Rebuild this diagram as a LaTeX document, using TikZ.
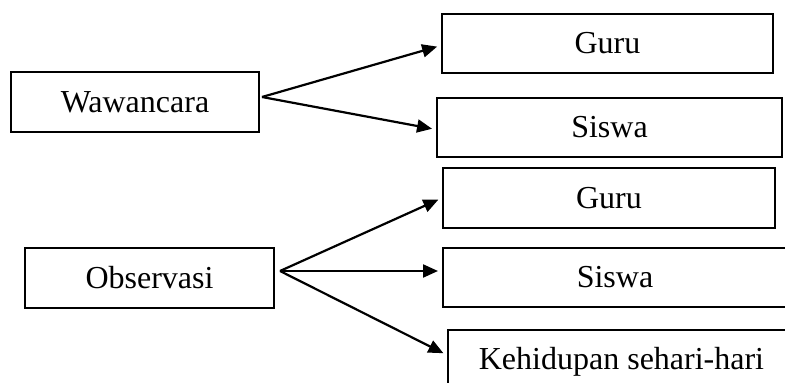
\documentclass[tikz,border=0pt]{standalone}
\usepackage{fontspec}
\setmainfont{Liberation Serif}
\usepackage{tikz}
\usetikzlibrary{positioning, arrows.meta}
\tikzstyle{arrow} = [line width=2.2pt, black, -{Triangle[length=15pt,width=13pt]}, shorten >=4pt]
\tikzset{
  box/.style={draw, line width=2pt, rectangle, inner sep=0pt, minimum height=59pt, font=\fontsize{32}{38}\selectfont}
}
\begin{document}
\begin{tikzpicture}[x=1pt, y=1pt]
    \useasboundingbox (0,0) rectangle (785,-383);
    \clip (0,0) rectangle (785,-383);

    % Wawancara and its two sources
    \node[box, minimum width=248pt, minimum height=60pt] (waw) at (135,-102) {Wawancara};
    \node[box, minimum width=331pt] (guruA) at (607.5,-43.5) {Guru};
    \node[box, minimum width=345pt] (siswaA) at (609.5,-127.5) {Siswa};

    % Observasi and its three sources
    \node[box, minimum width=249pt, minimum height=60pt] (obs) at (149.5,-278) {Observasi};
    \node[box, minimum width=332pt, minimum height=60pt] (guruB) at (609,-198) {Guru};
    \node[box, minimum width=344pt] (siswaB) at (615,-277.5) {Siswa};
    \node[box, minimum width=347pt, minimum height=64pt] (hidup) at (621.5,-362) {Kehidupan sehari-hari};

    % Arrows
    \coordinate (wawOut) at ([shift={(2pt,5pt)}]waw.east);
    \coordinate (obsOut) at ([shift={(5pt,7pt)}]obs.east);
    \draw[arrow] (wawOut) -- ([yshift=-2pt]guruA.west);
    \draw[arrow] (wawOut) -- ([yshift=-2pt]siswaA.west);
    \draw[arrow] (obsOut) -- (guruB.west);
    \draw[arrow] (obsOut) -- (obsOut -| siswaB.west);
    \draw[arrow] (obsOut) -- ([yshift=7pt]hidup.west);
\end{tikzpicture}
\end{document}
